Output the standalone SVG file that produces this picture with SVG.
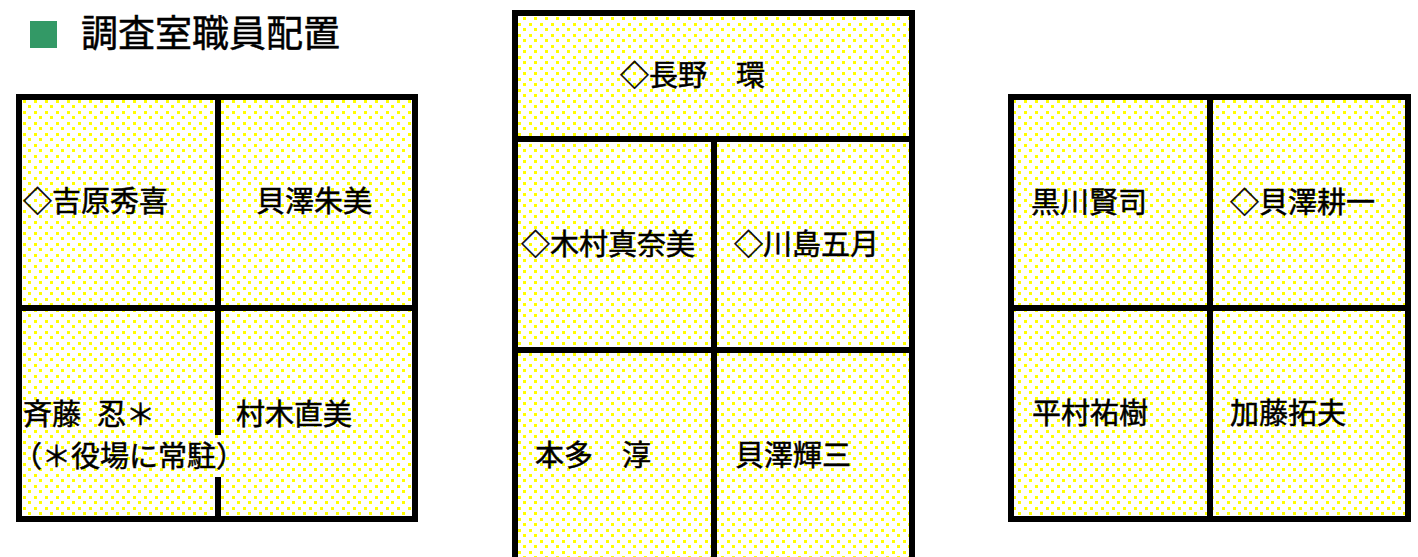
<svg xmlns="http://www.w3.org/2000/svg" width="1418" height="557" viewBox="0 0 1418 557">
<defs>
<pattern id="dots" patternUnits="userSpaceOnUse" x="0" y="0" width="11" height="11">
<rect x="0" y="0" width="11" height="11" fill="#ffffff"/>
<rect x="1" y="1" width="3" height="3" fill="#ffff00"/>
<rect x="6" y="6" width="3" height="3" fill="#ffff00"/>
</pattern>
</defs>
<style>
.cell{fill:url(#dots);stroke:none}
.wall{stroke:#000;stroke-width:6;fill:none;stroke-linecap:square}
.name{font-family:"Noto Sans CJK JP","Noto Sans CJK SC",sans-serif;font-size:29px;fill:#000;stroke:#000;stroke-width:0.5}
.title{font-family:"Noto Sans CJK JP","Noto Sans CJK SC",sans-serif;font-size:37px;fill:#000;stroke:#000;stroke-width:0.5}
</style>
<rect width="1418" height="557" fill="#ffffff"/>
<g id="title">
<rect x="30" y="21" width="27" height="27" fill="#339966"/>
<text class="title" x="81" y="47">調査室職員配置</text>
</g>
<g id="room-left">
<rect class="cell" x="19" y="97" width="396" height="422"/>
<g id="desk-yoshihara"><text class="name" x="23" y="212">◇吉原秀喜</text></g>
<g id="desk-kaizawa-akemi"><text class="name" x="256" y="212">貝澤朱美</text></g>
<g id="desk-saito"><text class="name" x="23" y="425">斉藤 <tspan x="97">忍＊</tspan></text><text class="name" x="13" y="467">（＊役場に常駐）</text></g>
<g id="desk-muraki"><text class="name" x="236" y="425">村木直美</text></g>
</g>
<g id="room-center">
<rect class="cell" x="515" y="13" width="397" height="560"/>
<g id="desk-nagano"><text class="name" x="620" y="86">◇長野　環</text></g>
<g id="desk-kimura"><text class="name" x="521" y="255">◇木村真奈美</text></g>
<g id="desk-kawashima"><text class="name" x="734" y="255">◇川島五月</text></g>
<g id="desk-honda"><text class="name" x="535" y="466">本多　淳</text></g>
<g id="desk-kaizawa-teruzo"><text class="name" x="735" y="466">貝澤輝三</text></g>
</g>
<g id="room-right">
<rect class="cell" x="1011" y="97" width="397" height="422"/>
<g id="desk-kurokawa"><text class="name" x="1031" y="213">黒川賢司</text></g>
<g id="desk-kaizawa-koichi"><text class="name" x="1230" y="213">◇貝澤耕一</text></g>
<g id="desk-hiramura"><text class="name" x="1032" y="424">平村祐樹</text></g>
<g id="desk-kato"><text class="name" x="1230" y="424">加藤拓夫</text></g>
</g>
<g id="connectors">
<rect class="wall" x="19" y="97" width="396" height="422"/>
<line class="wall" x1="218" y1="97" x2="218" y2="432"/>
<line class="wall" x1="218" y1="480" x2="218" y2="519"/>
<line class="wall" x1="19" y1="308" x2="415" y2="308"/>
<rect class="wall" x="515" y="13" width="397" height="600"/>
<line class="wall" x1="515" y1="139" x2="912" y2="139"/>
<line class="wall" x1="515" y1="350" x2="912" y2="350"/>
<line class="wall" x1="714" y1="139" x2="714" y2="600"/>
<rect class="wall" x="1011" y="97" width="397" height="422"/>
<line class="wall" x1="1210" y1="97" x2="1210" y2="519"/>
<line class="wall" x1="1011" y1="308" x2="1408" y2="308"/>
</g>
</svg>
